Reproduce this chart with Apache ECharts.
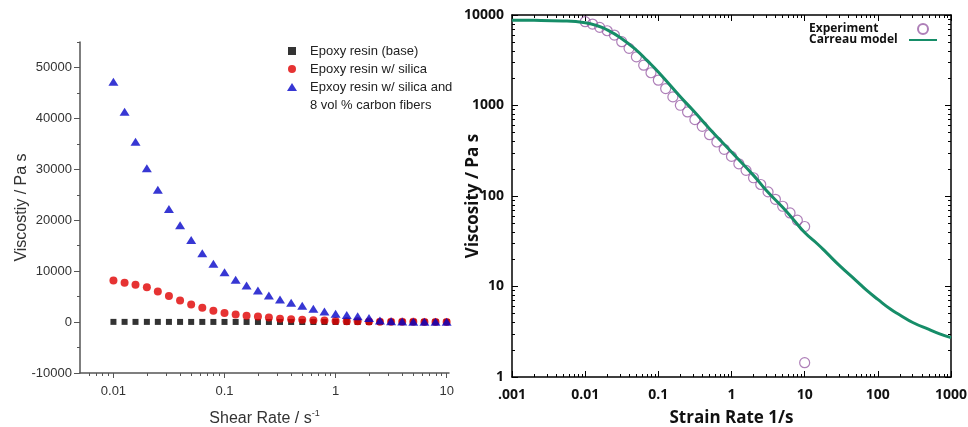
<!DOCTYPE html>
<html>
<head>
<meta charset="utf-8">
<script src="https://cdn.jsdelivr.net/npm/echarts@6/dist/echarts.min.js"></script>
<style>
html, body { margin: 0; padding: 0; background: #fff; }
#chart { width: 968px; height: 427px; }
</style>
</head>
<body>
<div id="chart"></div>
<script>
// ---- left panel: shear rate sweep ----
var shearRates = [0.01, 0.0126, 0.0158, 0.02, 0.0251, 0.0316, 0.0398, 0.0501, 0.0631, 0.0794,
    0.1, 0.126, 0.158, 0.2, 0.251, 0.316, 0.398, 0.501, 0.631, 0.794,
    1, 1.26, 1.58, 2, 2.51, 3.16, 3.98, 5.01, 6.31, 7.94, 10];
var baseResin = [40, 40, 38, 36, 35, 33, 32, 30, 29, 28, 27, 26, 25, 24, 23, 22, 21, 20, 20, 19,
    18, 18, 17, 16, 16, 15, 15, 14, 14, 13, 13];
var silicaResin = [8180, 7720, 7330, 6860, 6020, 5100, 4250, 3470, 2820, 2230,
    1770, 1510, 1250, 1100, 900, 650, 550, 450, 370, 300,
    230, 180, 140, 110, 80, 60, 50, 40, 35, 30, 25];
var fiberResin = [47200, 41300, 35400, 30200, 26000, 22200, 19000, 16100, 13530, 11450,
    9800, 8310, 7200, 6220, 5240, 4420, 3800, 3210, 2620, 2100,
    1650, 1380, 1120, 790, 330, 140, 90, 80, 70, 60, 50];
var leftMajorX = [0.01, 0.1, 1, 10];
var leftMajorY = [-10000, 0, 10000, 20000, 30000, 40000, 50000];
var leftMinorY = [-5000, 5000, 15000, 25000, 35000, 45000, 55000];

// ---- right panel: Carreau fit ----
var strainRates = [0.01, 0.0126, 0.0158, 0.02, 0.0251, 0.0316, 0.0398, 0.0501, 0.0631, 0.0794,
    0.1, 0.126, 0.158, 0.2, 0.251, 0.316, 0.398, 0.501, 0.631, 0.794,
    1, 1.26, 1.58, 2, 2.51, 3.16, 3.98, 5.01, 6.31, 7.94, 10, 10];
var expViscosity = [8440, 7940, 7300, 6700, 6000, 5070, 4280, 3450, 2790, 2300,
    1905, 1540, 1245, 1006, 849, 698, 589, 476, 395, 328,
    274, 227, 192, 159, 134, 111, 92, 77, 65, 54, 46, 1.44];
var modelRates = [0.001, 0.002, 0.005, 0.01, 0.015, 0.02, 0.03, 0.05, 0.07, 0.1, 0.2, 0.3, 0.5,
    1, 2, 3, 5, 7, 10, 15, 20, 30, 50, 70, 100, 150, 200, 300, 500, 700, 1000];
var modelViscosity = [8750, 8730, 8600, 8200, 7550, 6850, 5650, 4100, 3150, 2350, 1250, 880, 555,
    306, 169, 115, 75, 55, 39.5, 29.5, 23.5, 17, 11.7, 9.1, 7.2, 5.6, 4.85, 4.0, 3.35, 3.0, 2.72];
var rightMajorX = [0.001, 0.01, 0.1, 1, 10, 100, 1000];
var rightXLabels = ['.001', '0.01', '0.1', '1', '10', '100', '1000'];
var rightMajorY = [1, 10, 100, 1000, 10000];

function minorTicks(fromExp, toExp) {
    var out = [];
    for (var e = fromExp; e < toExp; e++) {
        for (var m = 2; m <= 9; m++) {
            out.push(+(m * Math.pow(10, e)).toPrecision(3));
        }
    }
    return out;
}
var leftMinorX = minorTicks(-3, 1).filter(function (v) { return v > 0.005; });
var rightMinorX = minorTicks(-3, 3);
var rightMinorY = minorTicks(0, 4);

function pairs(xs, ys) {
    return xs.map(function (x, i) { return [x, ys[i]]; });
}

var leftFont = 'Liberation Sans, Arial, sans-serif';
var rightFont = 'Open Sans, Noto Sans, sans-serif';

// axis that only draws ticks (minor ticks and the mirrored frame)
function tickAxis(gridIndex, type, position, min, max, ticks, len, inside, showLine) {
    return {
        gridIndex: gridIndex,
        type: type,
        position: position,
        min: min,
        max: max,
        axisLine: { show: !!showLine, onZero: false, lineStyle: { color: '#000', width: 1.5 } },
        axisTick: { show: true, inside: inside, length: len, customValues: ticks, lineStyle: { color: inside ? '#000' : '#555', width: 1 } },
        axisLabel: { show: false },
        splitLine: { show: false }
    };
}

var leftLegendText = { fontFamily: leftFont, fontSize: 13, lineHeight: 18, color: '#222', padding: [0, 0, 0, 9] };
function rightLegendText(w) {
    return {
        fontFamily: rightFont, fontWeight: 'bold', fontSize: 12, lineHeight: 11, color: '#111',
        rich: { a: { width: w, align: 'left', fontFamily: rightFont, fontWeight: 'bold', fontSize: 12, lineHeight: 11, color: '#111' } }
    };
}

var myChart = echarts.init(document.getElementById('chart'), null, { renderer: 'canvas' });

var option = {
    backgroundColor: '#fff',
    animation: false,
    grid: [
        { left: 80, top: 42, width: 369, height: 331, outerBoundsMode: 'none' },
        { left: 512, top: 15, width: 439, height: 362, outerBoundsMode: 'none' }
    ],
    legend: [
        {
            data: ['Epoxy resin (base)', 'Epoxy resin w/ silica'],
            orient: 'vertical',
            left: 288,
            top: 42,
            padding: 0,
            itemWidth: 8,
            itemHeight: 8,
            itemGap: 0,
            selectedMode: false,
            textStyle: leftLegendText
        },
        {
            data: ['Epxoy resin w/ silica and\n8 vol % carbon fibers'],
            orient: 'vertical',
            left: 287,
            top: 60,
            padding: 0,
            itemWidth: 10,
            itemHeight: 8,
            itemGap: 0,
            selectedMode: false,
            formatter: function (name) { return '\n' + name; },
            textStyle: { fontFamily: leftFont, fontSize: 13, lineHeight: 18, color: '#222', padding: [0, 0, 0, 8] }
        },
        {
            data: ['Experiment'],
            orient: 'vertical',
            align: 'right',
            right: 39,
            top: 23,
            padding: 0,
            itemWidth: 10,
            itemHeight: 10,
            itemGap: 0,
            selectedMode: false,
            formatter: '{a|{name}}',
            textStyle: rightLegendText(104)
        },
        {
            data: [{ name: 'Carreau model', itemStyle: { opacity: 0 } }],
            orient: 'vertical',
            align: 'right',
            right: 30,
            top: 34,
            padding: 0,
            itemWidth: 28,
            itemHeight: 10,
            itemGap: 0,
            selectedMode: false,
            formatter: '{a|{name}}',
            textStyle: rightLegendText(95)
        }
    ],
    xAxis: [
        {
            gridIndex: 0,
            type: 'log',
            position: 'bottom',
            min: 0.005,
            max: 10.5,
            name: '{a|Shear Rate / s}{b|-1}',
            nameLocation: 'middle',
            nameGap: 36,
            nameMoveOverlap: false,
            nameTextStyle: {
                rich: {
                    a: { fontFamily: leftFont, fontSize: 16, color: '#333' },
                    b: { fontFamily: leftFont, fontSize: 9, color: '#333', padding: [0, 0, 10, 0] }
                }
            },
            axisLine: { onZero: false, lineStyle: { color: '#555', width: 1.5 } },
            axisTick: { inside: false, length: 5, customValues: leftMajorX, lineStyle: { color: '#555' } },
            axisLabel: {
                customValues: leftMajorX, margin: 12,
                fontFamily: leftFont, fontSize: 13, color: '#333',
                formatter: function (v) { return String(v); }
            },
            splitLine: { show: false }
        },
        tickAxis(0, 'log', 'bottom', 0.005, 10.5, leftMinorX, 3, false, false),
        {
            gridIndex: 1,
            type: 'log',
            position: 'bottom',
            min: 0.001,
            max: 1000,
            name: 'Strain Rate 1/s',
            nameLocation: 'middle',
            nameGap: 33,
            nameMoveOverlap: false,
            nameTextStyle: { fontFamily: rightFont, fontWeight: 'bold', fontSize: 17, color: '#111' },
            axisLine: { onZero: false, lineStyle: { color: '#000', width: 1.5 } },
            axisTick: { inside: true, length: 6, customValues: rightMajorX, lineStyle: { color: '#000' } },
            axisLabel: {
                customValues: rightMajorX, margin: 11,
                fontFamily: rightFont, fontWeight: 'bold', fontSize: 14, color: '#111',
                formatter: function (v) { return rightXLabels[Math.round(Math.log10(v)) + 3]; }
            },
            splitLine: { show: false }
        },
        tickAxis(1, 'log', 'top', 0.001, 1000, rightMajorX, 6, true, true),
        tickAxis(1, 'log', 'bottom', 0.001, 1000, rightMinorX, 3, true, false),
        tickAxis(1, 'log', 'top', 0.001, 1000, rightMinorX, 3, true, false)
    ],
    yAxis: [
        {
            gridIndex: 0,
            type: 'value',
            position: 'left',
            min: -10000,
            max: 55000,
            interval: 10000,
            name: 'Viscostiy / Pa s',
            nameLocation: 'middle',
            nameGap: 50,
            nameMoveOverlap: false,
            nameTextStyle: { fontFamily: leftFont, fontSize: 16, color: '#333' },
            axisLine: { show: true, onZero: false, lineStyle: { color: '#555', width: 1.5 } },
            axisTick: { show: true, inside: false, length: 6, customValues: leftMajorY, lineStyle: { color: '#555' } },
            axisLabel: {
                customValues: leftMajorY, margin: 8, fontFamily: leftFont, fontSize: 13, color: '#333',
                formatter: function (v) { return String(v); }
            },
            splitLine: { show: false }
        },
        tickAxis(0, 'value', 'left', -10000, 55000, leftMinorY, 3, false, false),
        {
            gridIndex: 1,
            type: 'log',
            position: 'left',
            min: 1,
            max: 10000,
            name: 'Viscosity / Pa s',
            nameLocation: 'middle',
            nameGap: 30,
            nameMoveOverlap: false,
            nameTextStyle: { fontFamily: rightFont, fontWeight: 'bold', fontSize: 17, color: '#111' },
            axisLine: { show: true, onZero: false, lineStyle: { color: '#000', width: 1.5 } },
            axisTick: { show: true, inside: true, length: 6, customValues: rightMajorY, lineStyle: { color: '#000' } },
            axisLabel: {
                customValues: rightMajorY, margin: 8, fontFamily: rightFont, fontWeight: 'bold', fontSize: 14, color: '#111',
                formatter: function (v) { return String(v); }
            },
            splitLine: { show: false }
        },
        tickAxis(1, 'log', 'right', 1, 10000, rightMajorY, 6, true, true),
        tickAxis(1, 'log', 'left', 1, 10000, rightMinorY, 3, true, false),
        tickAxis(1, 'log', 'right', 1, 10000, rightMinorY, 3, true, false)
    ],
    series: [
        {
            name: 'Epoxy resin (base)',
            type: 'scatter',
            xAxisIndex: 0, yAxisIndex: 0,
            symbol: 'rect',
            symbolSize: 6,
            itemStyle: { color: '#000' },
            data: pairs(shearRates, baseResin)
        },
        {
            name: 'Epoxy resin w/ silica',
            type: 'scatter',
            xAxisIndex: 0, yAxisIndex: 0,
            symbol: 'circle',
            symbolSize: 8,
            itemStyle: { color: '#e00000' },
            data: pairs(shearRates, silicaResin)
        },
        {
            name: 'Epxoy resin w/ silica and\n8 vol % carbon fibers',
            type: 'scatter',
            xAxisIndex: 0, yAxisIndex: 0,
            symbol: 'triangle',
            symbolSize: [10, 8],
            itemStyle: { color: '#0505c8' },
            data: pairs(shearRates, fiberResin)
        },
        {
            name: 'Experiment',
            type: 'scatter',
            xAxisIndex: 2, yAxisIndex: 2,
            symbol: 'circle',
            symbolSize: 10,
            itemStyle: { color: 'rgba(0,0,0,0)', borderColor: '#9a5fa6', borderWidth: 1.2 },
            data: pairs(strainRates, expViscosity)
        },
        {
            name: 'Carreau model',
            type: 'line',
            xAxisIndex: 2, yAxisIndex: 2,
            symbol: 'none',
            smooth: 0.5,
            z: 3,
            lineStyle: { color: '#168d68', width: 3 },
            itemStyle: { color: '#168d68' },
            data: pairs(modelRates, modelViscosity)
        }
    ]
};

myChart.setOption(option);
</script>
</body>
</html>
